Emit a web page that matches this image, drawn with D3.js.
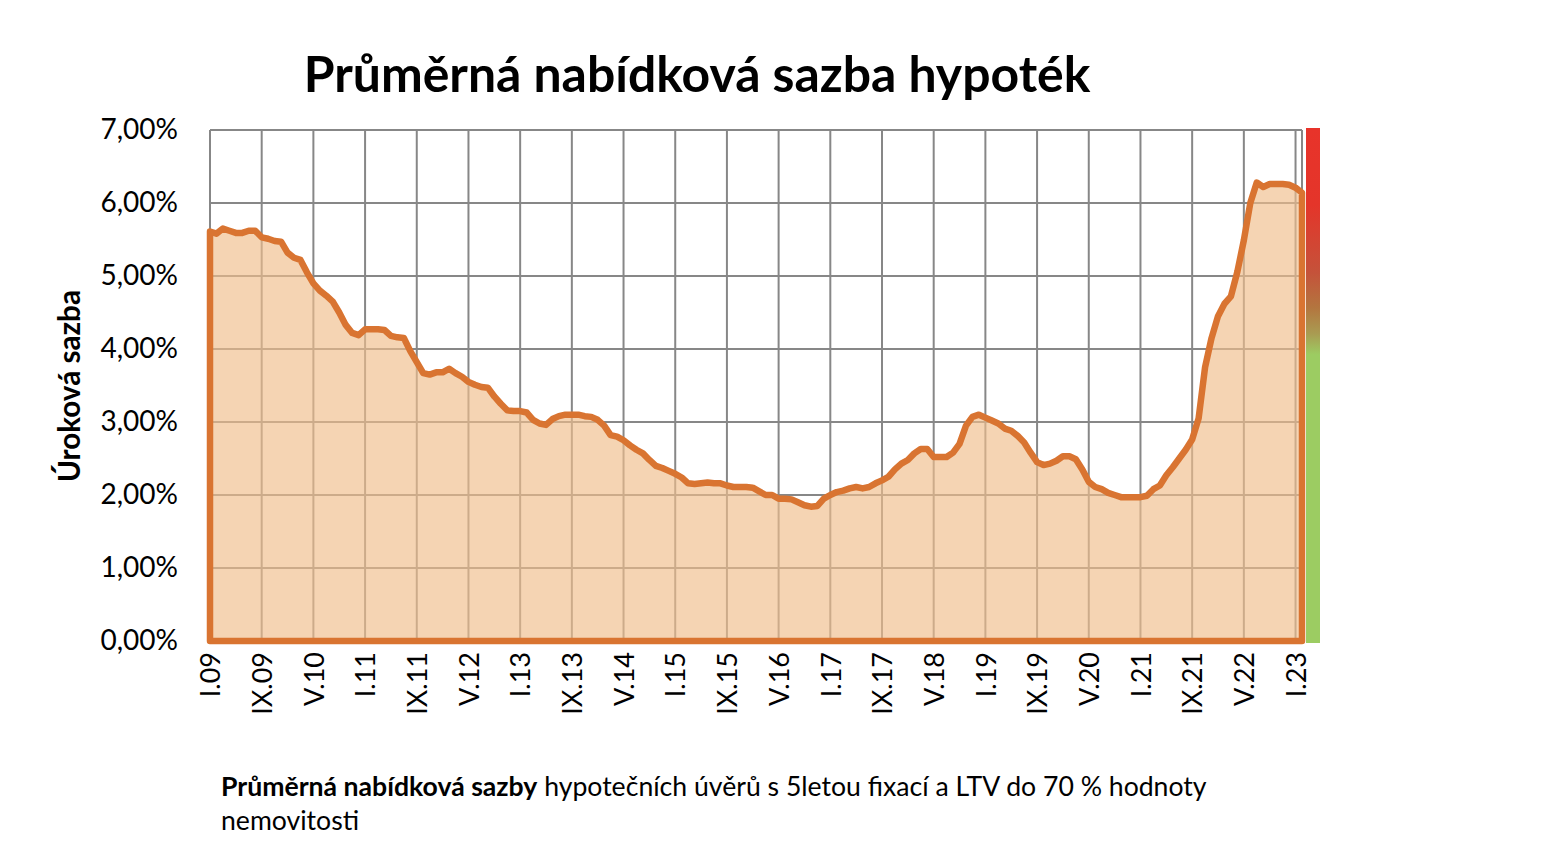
<!DOCTYPE html>
<html>
<head>
<meta charset="utf-8">
<script src="https://cdn.jsdelivr.net/npm/d3@7"></script>
<style>
  body { margin: 0; background: #fff; }
  svg text { font-family: Lato, "Noto Sans", sans-serif; fill: #000; }
</style>
</head>
<body>
<div id="chart"></div>
<script>
// monthly rates, I.09 .. II.23 (in %)
var rates = [
  5.61, 5.58, 5.65, 5.62, 5.59, 5.59, 5.62, 5.62, 5.53, 5.51,
  5.48, 5.47, 5.32, 5.25, 5.22, 5.05, 4.90, 4.80, 4.73, 4.65,
  4.50, 4.33, 4.22, 4.19, 4.27, 4.27, 4.27, 4.26, 4.18, 4.16,
  4.15, 3.97, 3.82, 3.67, 3.65, 3.68, 3.68, 3.73, 3.67, 3.62,
  3.55, 3.51, 3.48, 3.47, 3.35, 3.25, 3.16, 3.15, 3.15, 3.13,
  3.03, 2.98, 2.96, 3.04, 3.08, 3.10, 3.10, 3.10, 3.08, 3.07,
  3.03, 2.95, 2.82, 2.80, 2.75, 2.68, 2.62, 2.57, 2.48, 2.40,
  2.37, 2.33, 2.29, 2.24, 2.16, 2.15, 2.16, 2.17, 2.16, 2.16,
  2.13, 2.11, 2.11, 2.11, 2.10, 2.05, 2.00, 2.00, 1.95, 1.95,
  1.94, 1.90, 1.86, 1.84, 1.85, 1.95, 2.00, 2.04, 2.06, 2.09,
  2.11, 2.09, 2.11, 2.16, 2.20, 2.25, 2.35, 2.43, 2.48, 2.57,
  2.63, 2.63, 2.52, 2.52, 2.52, 2.58, 2.70, 2.95, 3.07, 3.10,
  3.06, 3.02, 2.98, 2.91, 2.88, 2.81, 2.72, 2.58, 2.45, 2.41,
  2.43, 2.47, 2.53, 2.53, 2.49, 2.35, 2.18, 2.11, 2.08, 2.03,
  2.00, 1.97, 1.97, 1.97, 1.97, 1.99, 2.08, 2.13, 2.27, 2.38,
  2.50, 2.62, 2.76, 3.05, 3.75, 4.15, 4.45, 4.62, 4.72, 5.06,
  5.49, 6.00, 6.28, 6.22, 6.26, 6.26, 6.26, 6.25, 6.21, 6.14
];

// every 8th month gets a label
var tickLabels = ["I.09","IX.09","V.10","I.11","IX.11","V.12","I.13","IX.13","V.14","I.15","IX.15",
                  "V.16","I.17","IX.17","V.18","I.19","IX.19","V.20","I.21","IX.21","V.22","I.23"];
var yTicks = [0, 1, 2, 3, 4, 5, 6, 7];

var title = "Průměrná nabídková sazba hypoték";
var yTitle = "Úroková sazba";
var noteBold = "Průměrná nabídková sazby";
var noteRest = " hypotečních úvěrů s 5letou fixací a LTV do 70 % hodnoty";
var noteLine2 = "nemovitosti";

(function() {
  var W = 1556, H = 868;
  var pLeft = 210, pRight = 1302, pTop = 130, pBottom = 641;

  var svg = d3.select("#chart").append("svg")
      .attr("width", W)
      .attr("height", H);

  var x = d3.scaleLinear().domain([0, rates.length - 1]).range([pLeft, pRight]);
  var y = d3.scaleLinear().domain([0, 7]).range([pBottom, pTop]);
  var tickIdx = tickLabels.map(function(d, i) { return i * 8; });

  // gradient bar on the right
  var grad = svg.append("defs").append("linearGradient")
      .attr("id", "bar")
      .attr("x1", 0).attr("y1", 0).attr("x2", 0).attr("y2", 1);
  [[0, "#e8332a"], [0.15, "#e4352a"], [0.28, "#c5523a"], [0.35, "#b3763f"], [0.40, "#a99c52"], [0.44, "#9ccc62"], [1, "#9ccc62"]]
    .forEach(function(s) {
      grad.append("stop").attr("offset", s[0]).attr("stop-color", s[1]);
    });
  svg.append("rect")
      .attr("x", 1306).attr("y", 128)
      .attr("width", 14).attr("height", pBottom + 2 - 128)
      .attr("fill", "url(#bar)");

  // grid
  var grid = svg.append("g").attr("stroke", "#878787").attr("stroke-width", 2);
  grid.selectAll("line.h").data(yTicks).enter().append("line")
      .attr("class", "h")
      .attr("x1", pLeft).attr("x2", pRight)
      .attr("y1", function(d) { return y(d); })
      .attr("y2", function(d) { return y(d); });
  grid.selectAll("line.v").data(tickIdx).enter().append("line")
      .attr("class", "v")
      .attr("x1", function(d) { return x(d); })
      .attr("x2", function(d) { return x(d); })
      .attr("y1", pTop).attr("y2", pBottom);
  grid.append("line").attr("x1", pRight).attr("x2", pRight).attr("y1", pTop).attr("y2", pBottom);

  // area
  var area = d3.area()
      .x(function(d, i) { return x(i); })
      .y0(y(0))
      .y1(function(d) { return y(d); });

  svg.append("path")
      .datum(rates)
      .attr("d", function(d) { return area(d) + "Z"; })
      .attr("fill", "rgb(240,190,140)")
      .attr("fill-opacity", 0.66)
      .attr("stroke", "#d97431")
      .attr("stroke-width", 6.5)
      .attr("stroke-linejoin", "round");

  // y axis
  var yAxis = svg.append("g")
      .attr("transform", "translate(" + pLeft + ",0)")
      .call(d3.axisLeft(y).tickValues(yTicks).tickSize(0).tickPadding(32)
          .tickFormat(function(d) { return d3.format(".2f")(d).replace(".", ",") + "%"; }));
  yAxis.select(".domain").remove();
  yAxis.selectAll("text")
      .style("font-family", "Lato, sans-serif")
      .style("font-size", "28px")
      .attr("fill", "#000");

  // x axis
  var xAxis = svg.append("g")
      .attr("transform", "translate(0," + pBottom + ")")
      .call(d3.axisBottom(x).tickValues(tickIdx).tickSize(0)
          .tickFormat(function(d, i) { return tickLabels[i]; }));
  xAxis.select(".domain").remove();
  xAxis.selectAll("text")
      .style("font-family", "Lato, sans-serif")
      .style("font-size", "27px")
      .attr("fill", "#000")
      .attr("transform", "rotate(-90)")
      .attr("x", -11)
      .attr("y", 0)
      .attr("dy", "0.36em")
      .attr("text-anchor", "end");

  function fit(sel, width) {
    var w = sel.node().getComputedTextLength();
    var fs = parseFloat(sel.style("font-size"));
    sel.style("font-size", (fs * width / w) + "px");
  }

  var t = svg.append("text")
      .attr("x", 697).attr("y", 92)
      .attr("text-anchor", "middle")
      .style("font-size", "42px")
      .style("font-weight", "bold")
      .text(title);
  fit(t, 787);

  var yt = svg.append("text")
      .attr("transform", "translate(80,386) rotate(-90)")
      .attr("text-anchor", "middle")
      .style("font-size", "23px")
      .style("font-weight", "bold")
      .text(yTitle);
  fit(yt, 192);

  var note = svg.append("text")
      .attr("x", 221).attr("y", 796)
      .style("font-size", "22px");
  note.append("tspan").style("font-weight", "bold").text(noteBold);
  note.append("tspan").text(noteRest);
  var nw = note.node().getComputedTextLength();
  var nfs = 22 * 986 / nw;
  note.style("font-size", nfs + "px");

  svg.append("text")
      .attr("x", 221).attr("y", 830)
      .style("font-size", nfs + "px")
      .text(noteLine2);
})();
</script>
</body>
</html>
